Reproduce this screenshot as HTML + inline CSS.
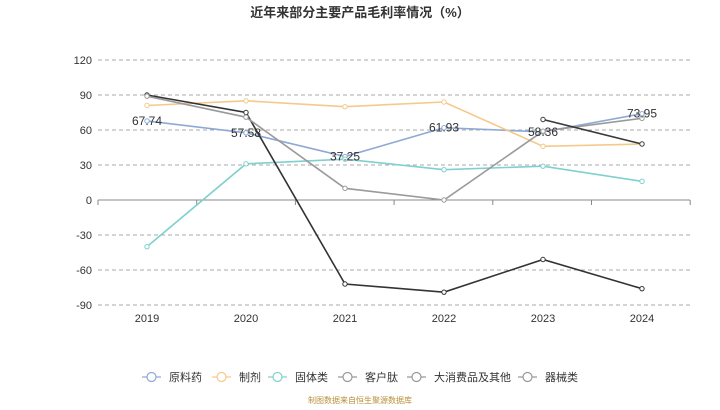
<!DOCTYPE html>
<html><head><meta charset="utf-8"><style>
body{margin:0;background:#fff;}
svg text{font-family:"Liberation Sans","Noto Sans CJK SC",sans-serif;}
</style></head><body>
<svg width="720" height="405" viewBox="0 0 720 405">
<text x="360" y="17" text-anchor="middle" font-size="13" font-weight="bold" fill="#333">近年来部分主要产品毛利率情况（%）</text>
<g id="grid"></g><g id="series"></g><g id="legend"></g>
<text x="360" y="403" text-anchor="middle" font-size="8" fill="#b8903a">制图数据来自恒生聚源数据库</text>
</svg>
<script>
const categories=["2019","2020","2021","2022","2023","2024"];
const yTicks=[120,90,60,30,0,-30,-60,-90];
const names=["原料药","制剂","固体类","客户肽","大消费品及其他","器械类"];
const s1=[67.74,57.58,37.25,61.93,58.36,73.95];
const s2=[81,85,80,84,46,48];
const s3=[-40,31,35,26,29,16];
const s4=[90,75,-72,-79,-51,-76];
const s5=[89,71,10,0,59,70];
const s6=[null,null,null,null,69,48];
const colors=["#8fa9d6","#f5c98a","#7fd0cf","#333333","#9a9a9a","#3a3a3a"];
const legendColors=["#8fa9d6","#f5c98a","#7fd0cf","#999","#999","#999"];
const series=[s1,s2,s3,s4,s5,s6];
const NS="http://www.w3.org/2000/svg";
const L=98,R=690,T=60,B=305;
const x=i=>147+i*99;
const y=v=>200-v*(140/120);
function mk(t,a,p){const e=document.createElementNS(NS,t);for(const k in a)e.setAttribute(k,a[k]);p.appendChild(e);return e;}
const g=document.getElementById('grid');
yTicks.forEach(v=>{
 const ln=mk('line',{x1:L,x2:R,y1:y(v),y2:y(v),stroke:v===0?'#888':'#aaa','stroke-dasharray':v===0?'':'4,3','stroke-width':1},g);
 
 
 const t=mk('text',{x:L-6,y:y(v)+4,'text-anchor':'end','font-size':11,fill:'#333'},g);t.textContent=v;
 
 
});
for(let i=0;i<=6;i++){const tk=mk('line',{x1:L+i*98.7,x2:L+i*98.7,y1:200,y2:205,stroke:'#888'},g);
 
 }
categories.forEach((c,i)=>{const t=mk('text',{x:x(i),y:322,'text-anchor':'middle','font-size':11,fill:'#333'},g);t.textContent=c;
 
 });
const sg=document.getElementById('series');
series.forEach((s,k)=>{
 let d='';s.forEach((v,i)=>{if(v===null)return;d+=(d?'L':'M')+x(i)+','+y(v);});
 const p=mk('path',{d:d,fill:'none',stroke:colors[k],'stroke-width':1.6},sg);
 
 
 s.forEach((v,i)=>{if(v===null)return;const c=mk('circle',{cx:x(i),cy:y(v),r:2.2,fill:'#fff',stroke:colors[k],'stroke-width':1},sg);
 
 });
});
s1.forEach((v,i)=>{const t=mk('text',{x:x(i),y:y(v)+4,'text-anchor':'middle','font-size':12,fill:'#333'},sg);t.textContent=v.toFixed(2);
 
 });
const lg=document.getElementById('legend');
const lx=[142,212,268,338,407,518];
names.forEach((n,k)=>{
 const e=mk('g',{},lg);
 
 
 mk('line',{x1:lx[k],x2:lx[k]+19,y1:377,y2:377,stroke:legendColors[k],'stroke-width':1.2},e);
 mk('circle',{cx:lx[k]+9.5,cy:377,r:4.5,fill:'#fff',stroke:legendColors[k],'stroke-width':1.2},e);
 const t=mk('text',{x:lx[k]+27,y:381,'font-size':11,fill:'#333'},e);t.textContent=n;
});
</script>
</body></html>
